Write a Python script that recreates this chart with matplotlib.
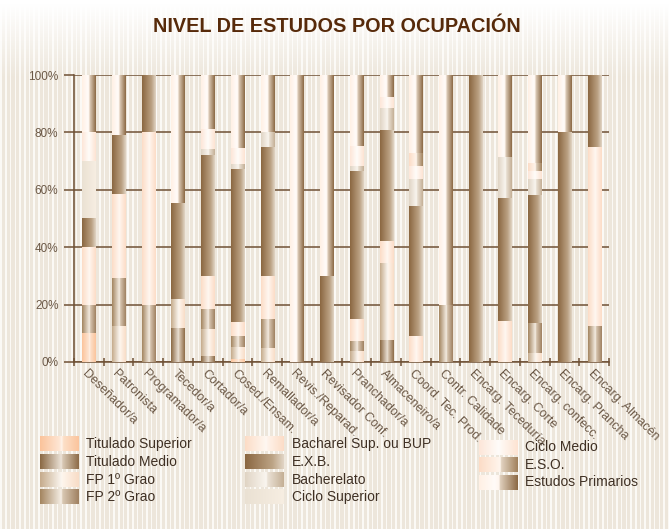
import numpy as np
import matplotlib
matplotlib.use("Agg")
import matplotlib.pyplot as plt
from matplotlib.colors import to_rgb

# ---------------- data ----------------
categories = ["Deseñador/a", "Patronista", "Programador/a", "Tecedor/a", "Cortador/a",
              "Cosed./Ensam.", "Remallador/a", "Revis./Reparad.", "Revisador Conf.",
              "Pranchador/a", "Almaceneiro/a", "Coord. Tec. Prod.", "Contr. Calidade",
              "Encarg. Teceduría", "Encarg. Corte", "Encarg. confecc.", "Encarg. Prancha",
              "Encarg. Almacén"]

series_names = ["Titulado Superior", "Titulado Medio", "FP 1º Grao", "FP 2º Grao",
                "Bacharel Sup. ou BUP", "E.X.B.", "Bacherelato", "Ciclo Superior",
                "Ciclo Medio", "E.S.O.", "Estudos Primarios"]

titulado_superior = [10, 0, 0, 0, 0, 0.9, 0, 0, 0, 0, 0, 0, 0, 0, 0, 0, 0, 0]
titulado_medio    = [0, 0, 0, 12, 2.1, 0, 0, 0, 0, 0, 7.7, 0, 0, 0, 0, 0, 0, 0]
fp1_grao          = [0, 12.5, 0, 10, 9.3, 4.2, 5, 0, 0, 3.9, 26.9, 0, 0, 0, 0, 3, 0, 0]
fp2_grao          = [10, 16.7, 20, 0, 7.1, 3.9, 10, 0, 0, 3.4, 0, 0, 20, 0, 0, 10.5, 0, 12.5]
bacharel_bup      = [20, 29.2, 60, 0, 11.5, 5.0, 15, 0, 0, 7.7, 7.5, 9.1, 0, 0, 14.3, 0, 0, 62.5]
exb               = [10, 20.8, 20, 33.5, 42.2, 53.3, 45, 0, 30, 51.6, 38.7, 45.4, 0, 100, 42.9, 44.7, 80, 25]
bacherelato       = [0, 0, 0, 0, 2.1, 1.6, 5, 0, 0, 1.7, 7.8, 9.1, 0, 0, 14.3, 5.6, 0, 0]
ciclo_superior    = [20, 0, 0, 0, 0, 0, 0, 0, 0, 0, 0, 0, 0, 0, 0, 0, 0, 0]
ciclo_medio       = [10, 0, 0, 0, 6.9, 5.8, 0, 0, 0, 6.9, 3.8, 4.6, 0, 0, 0, 2.8, 0, 0]
eso               = [0, 0, 0, 0, 0, 0, 0, 0, 0, 0, 0, 4.5, 0, 0, 0, 2.7, 0, 0]
estudos_primarios = [20, 20.8, 0, 44.5, 18.8, 25.3, 20, 100, 70, 24.8, 7.6, 27.3, 80, 0, 28.5, 30.7, 20, 0]

series_values = [titulado_superior, titulado_medio, fp1_grao, fp2_grao, bacharel_bup, exb,
                 bacherelato, ciclo_superior, ciclo_medio, eso, estudos_primarios]

y_ticks = [0, 20, 40, 60, 80, 100]
y_tick_labels = ["0%", "20%", "40%", "60%", "80%", "100%"]

# horizontal gradient profiles for each series (position across bar width, colour)
profiles = {
    "Titulado Superior": [(0, '#fbc39a'), (0.5, '#fee6d4'), (0.56, '#fff4ec'), (0.6, '#fde0c9'), (1, '#fbc49c')],
    "Titulado Medio": [(0, '#8a6843'), (0.55, '#ece3d8'), (0.58, '#d9c9b5'), (1, '#8d6b47')],
    "FP 1º Grao": [(0, '#c5ab8b'), (0.55, '#fbf6f0'), (0.58, '#fef5ec'), (1, '#f8dcc6')],
    "FP 2º Grao": [(0, '#a3845f'), (0.55, '#f6efe6'), (0.58, '#d9c8b3'), (1, '#9f8060')],
    "Bacharel Sup. ou BUP": [(0, '#fcdcc6'), (0.55, '#fff8f2'), (0.58, '#fff3ea'), (1, '#fcdcc6')],
    "E.X.B.": [(0, '#8a6640'), (0.7, '#bca385'), (1, '#e2d6c6')],
    "Bacherelato": [(0, '#e0d4c4'), (0.55, '#faf6f0'), (0.58, '#ebe2d6'), (1, '#c4af95')],
    "Ciclo Superior": [(0, '#eae1d3'), (1, '#f7eee2')],
    "Ciclo Medio": [(0, '#fde6d8'), (0.5, '#fffcf9'), (1, '#fde3d2')],
    "E.S.O.": [(0, '#fcdcc6'), (0.55, '#fff6ee'), (0.57, '#e2d3c1'), (1, '#a1815c')],
    "Estudos Primarios": [(0, '#fff0e4'), (0.4, '#fffbf8'), (0.52, '#fff5ee'), (0.54, '#e0d0bd'), (1, '#8b6843')],
}


def make_grad(stops, n=240):
    u = np.linspace(0, 1, n)
    pos = np.array([s[0] for s in stops])
    cols = np.array([to_rgb(s[1]) for s in stops])
    rgb = np.stack([np.interp(u, pos, cols[:, k]) for k in range(3)], axis=-1)
    return rgb[None, :, :]


W, H = 669, 529
fig = plt.figure(figsize=(W / 100, H / 100), dpi=100)

# ---------------- striped background ----------------
bg = fig.add_axes([0, 0, 1, 1], zorder=0)
xs = np.arange(W)
ys = np.arange(H)
light = np.array(to_rgb('#fbf9f5'))
dark = np.array(to_rgb('#ede6db'))
phase = (xs % 4.7) / 4.7
stripe = np.where((phase < 0.33)[:, None], light, dark)
t = np.clip((ys - 3) / 75.0, 0, 1)[:, None, None]
img = (1 - t) * np.ones(3)[None, None, :] + t * stripe[None, :, :]
bg.imshow(img, extent=(0, W, H, 0), aspect='auto', interpolation='nearest')
bg.set_xlim(0, W)
bg.set_ylim(H, 0)
bg.axis('off')

# ---------------- main axes ----------------
ax = fig.add_axes([74 / W, 1 - 362 / H, 535 / W, 287 / H], zorder=1)
ax.patch.set_visible(False)
grid_col = '#6f5034'
text_col = '#6b5846'

x = np.arange(len(categories))
bottom = np.zeros(len(categories))
for name, vals in zip(series_names, series_values):
    vals = np.array(vals, dtype=float)
    bars = ax.bar(x, vals, bottom=bottom, width=0.44, color='none', edgecolor='none', zorder=3)
    grad = make_grad(profiles[name])
    for p, v in zip(bars.patches, vals):
        if v <= 0:
            continue
        x0, y0 = p.get_x(), p.get_y()
        ax.imshow(grad, extent=(x0, x0 + p.get_width(), y0, y0 + p.get_height()),
                  aspect='auto', interpolation='bilinear', zorder=3)
    bottom += vals

ax.set_xlim(-0.5, len(categories) - 0.5)
ax.set_ylim(0, 100)

for v in y_ticks:
    ax.axhline(v, color=grid_col, lw=1.1, zorder=1)

for s in ['top', 'right']:
    ax.spines[s].set_visible(False)
ax.spines['left'].set_color(grid_col)
ax.spines['bottom'].set_color(grid_col)
ax.spines['left'].set_linewidth(1.1)
ax.spines['bottom'].set_linewidth(1.1)

ax.set_yticks(y_ticks)
ax.set_yticklabels(y_tick_labels, fontsize=8.5, color=text_col, family=['Liberation Sans', 'DejaVu Sans'])
ax.tick_params(axis='y', direction='out', length=7.2, width=1.1, color=grid_col, pad=4)

ax.set_xticks(np.arange(-0.5, len(categories), 1.0))
ax.set_xticklabels([])
ax.tick_params(axis='x', which='major', direction='inout', length=6, width=1.1, color=grid_col)
ax.set_xticks(x, minor=True)
ax.set_xticklabels(categories, minor=True, rotation=-45, ha='left', va='top',
                   rotation_mode='anchor', fontsize=9, color=text_col,
                   family=['Liberation Sans Narrow', 'Liberation Sans', 'DejaVu Sans'])
ax.tick_params(axis='x', which='minor', length=0, pad=4)

# ---------------- title ----------------
fig.text(337 / W, 1 - 27 / H, "NIVEL DE ESTUDOS POR OCUPACIÓN", ha='center', va='center',
         fontsize=14.3, fontweight='bold', color='#572a0a', family=['Liberation Sans', 'DejaVu Sans'])

# ---------------- legend ----------------
lg = fig.add_axes([0, 0, 1, 1], zorder=2)
lg.patch.set_visible(False)
col_x = [(40, 86), (245, 292), (479, 525)]
col_rows = [[444, 461.7, 479.5, 497], [444, 461.7, 479.5, 497], [447.3, 464.8, 482.5]]
layout = [(0, 0), (0, 1), (0, 2), (0, 3), (1, 0), (1, 1), (1, 2), (1, 3), (2, 0), (2, 1), (2, 2)]
for name, (c, r) in zip(series_names, layout):
    sx, tx = col_x[c]
    cy = col_rows[c][r]
    lg.imshow(make_grad(profiles[name]), extent=(sx, sx + 39, cy + 7.3, cy - 7.3),
              aspect='auto', interpolation='bilinear')
    lg.text(tx, cy, name, ha='left', va='center', fontsize=10, color='#3f3024',
            family=['Liberation Sans', 'DejaVu Sans'])
lg.set_xlim(0, W)
lg.set_ylim(H, 0)
lg.axis('off')

fig.savefig("out.png", dpi=100)
